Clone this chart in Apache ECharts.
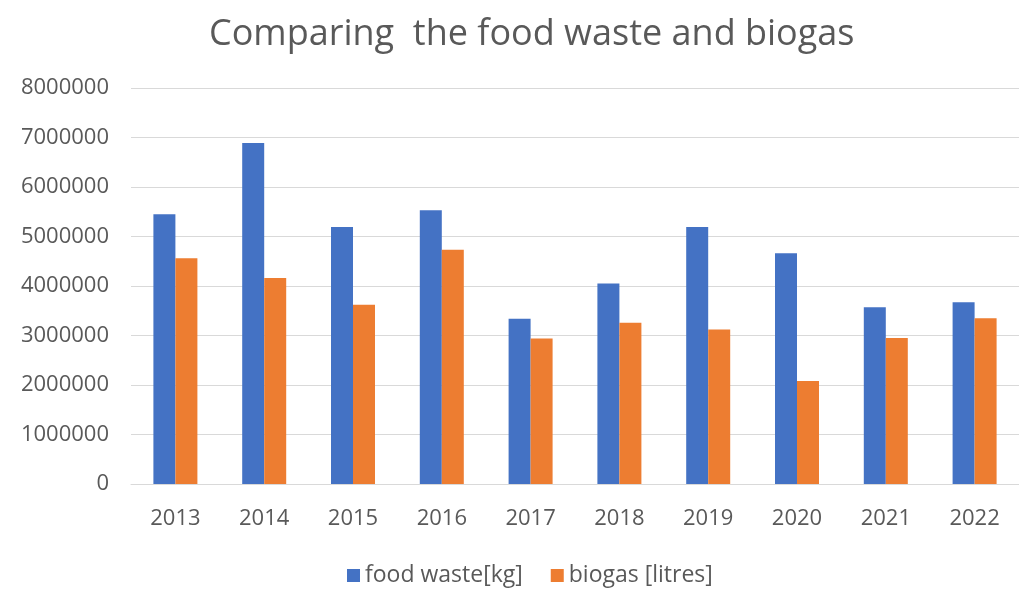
<!DOCTYPE html>
<html>
<head>
<meta charset="utf-8">
<script src="https://cdn.jsdelivr.net/npm/echarts@6/dist/echarts.min.js"></script>
<style>
  html, body { margin: 0; padding: 0; background: #fff; }
  #chart { width: 1019px; height: 590px; }
</style>
</head>
<body>
<div id="chart"></div>
<script>
// Yearly totals of food waste collected and biogas produced
var years = ['2013', '2014', '2015', '2016', '2017', '2018', '2019', '2020', '2021', '2022'];
var foodWaste = [5450000, 6890000, 5190000, 5530000, 3340000, 4050000, 5190000, 4660000, 3570000, 3670000];
var biogas = [4560000, 4160000, 3620000, 4730000, 2940000, 3260000, 3120000, 2080000, 2950000, 3350000];
var seriesNames = ['food waste[kg]', 'biogas [litres]'];
var titleText = 'Comparing  the food waste and biogas';

var fontFamily = '"Open Sans", sans-serif';
var textColor = '#595959';

var chart = echarts.init(document.getElementById('chart'));
chart.setOption({
  animation: false,
  backgroundColor: '#ffffff',
  title: {
    text: titleText,
    left: 204,
    top: 12,
    textStyle: { fontFamily: fontFamily, fontSize: 36, fontWeight: 'normal', color: textColor }
  },
  legend: {
    data: seriesNames,
    bottom: -2,
    left: 342,
    icon: 'rect',
    itemWidth: 13,
    itemHeight: 13,
    itemGap: 28,
    itemTextGap: 6,
    textStyle: { fontFamily: fontFamily, fontSize: 23, color: textColor }
  },
  grid: { left: 131, width: 897, top: 88, bottom: 106, containLabel: false },
  xAxis: {
    type: 'category',
    data: years,
    axisLine: { lineStyle: { color: '#d9d9d9' } },
    axisTick: { show: false },
    axisLabel: { fontFamily: fontFamily, fontSize: 22, color: textColor, margin: 24 }
  },
  yAxis: {
    type: 'value',
    min: 0,
    max: 8000000,
    interval: 1000000,
    axisLine: { show: false },
    axisTick: { show: false },
    splitLine: { lineStyle: { color: '#d9d9d9' } },
    axisLabel: {
      fontFamily: fontFamily, fontSize: 22, color: textColor, margin: 22,
      formatter: function (v) { return String(v); }
    }
  },
  series: [
    { name: seriesNames[0], type: 'bar', data: foodWaste, barWidth: 22, barGap: '0%', itemStyle: { color: '#4472C4' } },
    { name: seriesNames[1], type: 'bar', data: biogas, barWidth: 22, barGap: '0%', itemStyle: { color: '#ED7D31' } }
  ]
});
</script>
</body>
</html>
